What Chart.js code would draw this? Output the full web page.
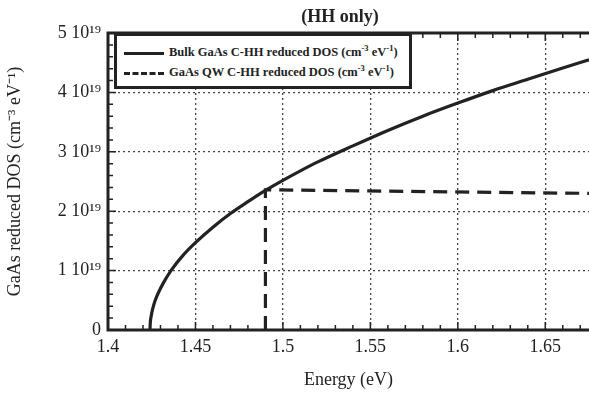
<!DOCTYPE html>
<html>
<head>
<meta charset="utf-8">
<script src="https://cdn.jsdelivr.net/npm/chart.js@4.4.0/dist/chart.umd.min.js"></script>
<style>
  body { margin: 0; background: #fff; }
  #wrap { position: relative; width: 589px; height: 394px; }
  #legend {
    position: absolute; left: 114px; top: 33px; width: 292px; height: 50px;
    border: 3px solid #222; background: #fff;
    font-family: "Liberation Serif", serif; font-weight: bold; font-size: 12.5px; color: #222;
  }
  .row { position: absolute; left: 7px; white-space: nowrap; }
  .row span.ln { display: inline-block; width: 40px; vertical-align: middle; margin-right: 5px; }
  sup { font-size: 8.5px; }
</style>
</head>
<body>
<div id="wrap">
  <canvas id="c" width="589" height="394"></canvas>
  <div id="legend">
    <div class="row" style="top:7px"><span class="ln" style="border-top:3px solid #222"></span>Bulk GaAs C-HH reduced DOS (cm<sup>-3</sup> eV<sup>-1</sup>)</div>
    <div class="row" style="top:27px"><span class="ln" style="border-top:3px dashed #222"></span>GaAs QW C-HH reduced DOS (cm<sup>-3</sup> eV<sup>-1</sup>)</div>
  </div>
</div>
<script>
// energies in eV, DOS in units of 10^19 cm^-3 eV^-1
var bulkE   = [1.424, 1.4242, 1.4246, 1.4255, 1.427, 1.429, 1.432, 1.436, 1.443, 1.45, 1.46, 1.47, 1.48, 1.49, 1.5, 1.51, 1.52, 1.54, 1.56, 1.58, 1.6, 1.62, 1.64, 1.66, 1.675];
var bulkDos = [0, 0.13, 0.22, 0.35, 0.5, 0.64, 0.81, 1.0, 1.26, 1.47, 1.73, 1.96, 2.16, 2.35, 2.52, 2.68, 2.83, 3.1, 3.36, 3.6, 3.82, 4.03, 4.22, 4.41, 4.55];
var qwE   = [1.49, 1.49, 1.675];
var qwDos = [0, 2.36, 2.3];
var xTicks = [1.4, 1.45, 1.5, 1.55, 1.6, 1.65];
var yTicks = [0, 1, 2, 3, 4, 5];

var ink = "#222";
var serif = "Liberation Serif";

function pts(xs, ys) {
  var out = [];
  for (var i = 0; i < xs.length; i++) out.push({x: xs[i], y: ys[i]});
  return out;
}

// frame, inward ticks and title
var framePlugin = {
  id: "frame",
  afterDraw: function(chart) {
    var ctx = chart.ctx, a = chart.chartArea;
    var xs = chart.scales.x, ys = chart.scales.y;
    ctx.save();
    ctx.strokeStyle = ink;
    ctx.lineWidth = 3;
    ctx.beginPath();
    ctx.moveTo(chart.width, a.top); ctx.lineTo(a.left, a.top);
    ctx.lineTo(a.left, a.bottom); ctx.lineTo(chart.width, a.bottom);
    ctx.stroke();
    ctx.lineWidth = 1.5;
    ctx.beginPath();
    for (var v = 140; v <= 167; v++) {
      var px = xs.getPixelForValue(v / 100);
      var len = (v % 5 == 0) ? 8 : 5;
      ctx.moveTo(px, a.bottom); ctx.lineTo(px, a.bottom - len);
      ctx.moveTo(px, a.top); ctx.lineTo(px, a.top + len);
    }
    for (var w = 0; w <= 25; w++) {
      var py = ys.getPixelForValue(w / 5);
      var l2 = (w % 5 == 0) ? 8 : 5;
      ctx.moveTo(a.left, py); ctx.lineTo(a.left + l2, py);
    }
    ctx.stroke();
    ctx.fillStyle = ink;
    ctx.font = "bold 18px " + serif;
    ctx.textAlign = "center";
    ctx.textBaseline = "middle";
    ctx.fillText("(HH only)", 340, 17);
    ctx.restore();
  }
};

new Chart(document.getElementById("c"), {
  type: "scatter",
  data: {
    datasets: [
      { label: "Bulk", data: pts(bulkE, bulkDos), showLine: true, borderColor: ink, borderWidth: 3.2, pointRadius: 0, cubicInterpolationMode: "monotone" },
      { label: "QW", data: pts(qwE, qwDos), showLine: true, borderColor: ink, borderWidth: 3.2, borderDash: [14, 8], pointRadius: 0 }
    ]
  },
  options: {
    responsive: false,
    animation: false,
    layout: { padding: { top: 33, right: 0, left: 0, bottom: 0 } },
    plugins: { legend: { display: false }, tooltip: { enabled: false } },
    scales: {
      x: {
        type: "linear", min: 1.4, max: 1.675,
        afterBuildTicks: function(s) { s.ticks = xTicks.map(function(v) { return {value: v}; }); },
        afterFit: function(s) { s.height = 64; },
        ticks: { padding: 6, color: ink, font: { family: serif, size: 18 }, maxRotation: 0,
                 callback: function(v) { return String(Math.round(v * 100) / 100); } },
        grid: { color: "#444", lineWidth: 1.3, drawTicks: false },
        border: { display: false, dash: [2, 3] },
        title: { display: true, text: "Energy (eV)", color: ink, font: { family: serif, size: 18 }, padding: { top: 0, bottom: 3 } }
      },
      y: {
        min: 0, max: 5,
        afterBuildTicks: function(s) { s.ticks = yTicks.map(function(v) { return {value: v}; }); },
        afterFit: function(s) { s.width = 108; },
        ticks: { padding: 7, color: ink, font: { family: serif, size: 18 },
                 callback: function(v) { return v == 0 ? "0" : v + " 10\u00b9\u2079"; } },
        grid: { color: "#444", lineWidth: 1.3, drawTicks: false },
        border: { display: false, dash: [2, 3] },
        title: { display: true, text: "GaAs reduced DOS (cm\u207b\u00b3 eV\u207b\u00b9)", color: ink, font: { family: serif, size: 18 }, padding: { top: 4, bottom: 0 } }
      }
    }
  },
  plugins: [framePlugin]
});
</script>
</body>
</html>
